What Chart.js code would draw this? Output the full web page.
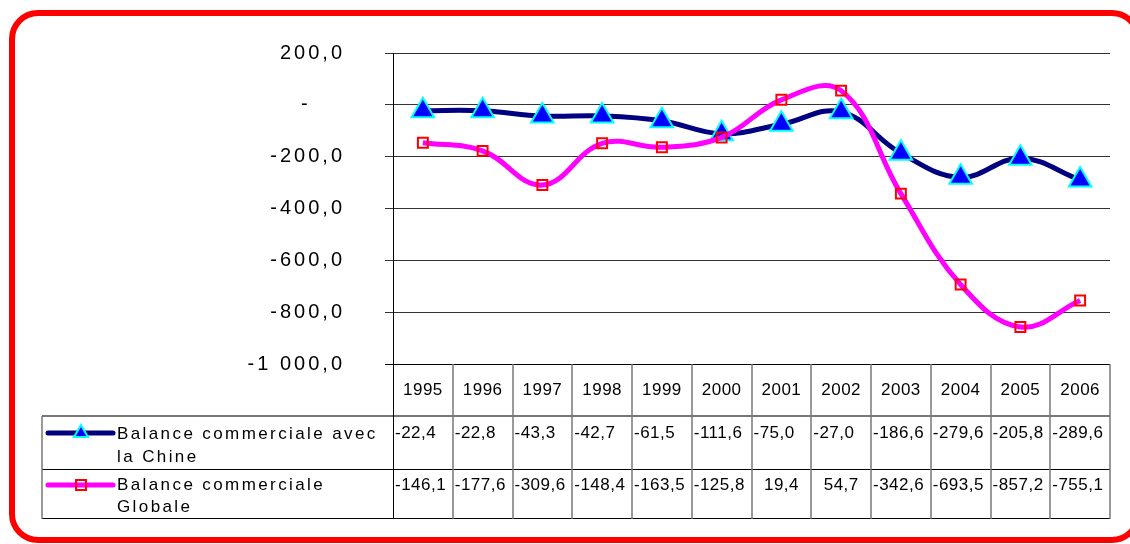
<!DOCTYPE html>
<html><head><meta charset="utf-8">
<script src="https://cdn.jsdelivr.net/npm/chart.js@4.4.0/dist/chart.umd.min.js"></script>
<style>html,body{margin:0;padding:0;background:#fff;}canvas{display:block;}</style>
</head><body>
<canvas id="c" width="1130" height="544"></canvas>
<script>
const years = ['1995','1996','1997','1998','1999','2000','2001','2002','2003','2004','2005','2006'];
const chinaLabel = ['Balance commerciale avec', 'la Chine'];
const globalLabel = ['Balance commerciale', 'Globale'];
const chinaValues = [-22.4, -22.8, -43.3, -42.7, -61.5, -111.6, -75.0, -27.0, -186.6, -279.6, -205.8, -289.6];
const globalValues = [-146.1, -177.6, -309.6, -148.4, -163.5, -125.8, 19.4, 54.7, -342.6, -693.5, -857.2, -755.1];
const yMin = -1000, yMax = 200, yStep = 200;

const FONT = '"Liberation Sans", Arial, sans-serif';

function fmtNum(v) {
  const s = v.toFixed(1).replace('.', ',');
  return v >= 0 ? '  ' + s : s;
}
function fmtTick(v) {
  if (v === 0) return '-    ';
  let s = Math.abs(v).toFixed(1).replace('.', ',');
  s = s.replace(/^(\d)(\d{3})/, '$1 $2');
  return (v < 0 ? '-' : '') + s;
}

const spacingPlugin = {
  id: 'spacing',
  beforeDraw(chart) { chart.ctx.letterSpacing = '3px'; },
  beforeDatasetsDraw(chart) { chart.ctx.letterSpacing = '0px'; }
};

const tablePlugin = {
  id: 'table',
  afterDraw(chart) {
    const ctx = chart.ctx;
    const ca = chart.chartArea;
    const n = years.length;
    const colW = (ca.right - ca.left) / n;
    const top = ca.bottom;          // 364
    const r1 = top + 52;            // 416
    const r2 = r1 + 53;             // 469
    const bot = r2 + 49;            // 518
    const legL = 42;
    ctx.save();
    ctx.letterSpacing = '0px';
    // horizontal lines
    ctx.strokeStyle = '#000'; ctx.lineWidth = 1;
    ctx.beginPath(); ctx.moveTo(ca.left - 8, top + 0.5); ctx.lineTo(ca.right, top + 0.5); ctx.stroke();
    ctx.strokeStyle = '#777'; ctx.lineWidth = 2;
    ctx.beginPath(); ctx.moveTo(legL, r1); ctx.lineTo(ca.right, r1); ctx.stroke();
    ctx.strokeStyle = '#000'; ctx.lineWidth = 1;
    ctx.beginPath(); ctx.moveTo(legL, r2 + 0.5); ctx.lineTo(ca.right, r2 + 0.5); ctx.stroke();
    ctx.beginPath(); ctx.moveTo(legL, bot + 0.5); ctx.lineTo(ca.right, bot + 0.5); ctx.stroke();
    // vertical lines
    ctx.strokeStyle = '#777'; ctx.lineWidth = 1.5;
    ctx.beginPath(); ctx.moveTo(legL, r1); ctx.lineTo(legL, bot + 1); ctx.stroke();
    for (let i = 1; i <= n; i++) {
      const x = Math.round(ca.left + i * colW);
      ctx.beginPath(); ctx.moveTo(x, top); ctx.lineTo(x, bot + 1); ctx.stroke();
    }
    ctx.strokeStyle = '#000'; ctx.lineWidth = 1;
    ctx.beginPath(); ctx.moveTo(ca.left + 0.5, top); ctx.lineTo(ca.left + 0.5, bot + 1); ctx.stroke();

    // years
    ctx.fillStyle = '#000';
    ctx.font = '17px ' + FONT;
    ctx.textBaseline = 'middle';
    ctx.textAlign = 'center';
    ctx.letterSpacing = '0.5px';
    for (let i = 0; i < n; i++) {
      ctx.fillText(years[i], ca.left + (i + 0.5) * colW, top + 26);
    }
    // values
    ctx.textAlign = 'left';
    for (let i = 0; i < n; i++) {
      const xl = ca.left + i * colW + 2;
      ctx.fillText(fmtNum(chinaValues[i]), xl, r1 + 17);
      ctx.fillText(fmtNum(globalValues[i]), xl, r2 + 16);
    }
    // legend keys
    ctx.letterSpacing = '0px';
    const drawKey = (y, color, style, radius, fill, border) => {
      ctx.strokeStyle = color; ctx.lineWidth = 5; ctx.lineCap = 'round';
      ctx.beginPath(); ctx.moveTo(48, y); ctx.lineTo(113, y); ctx.stroke();
      ctx.lineCap = 'butt';
      ctx.fillStyle = fill; ctx.strokeStyle = border; ctx.lineWidth = 2;
      Chart.helpers.drawPoint(ctx, {pointStyle: style, radius: radius, borderWidth: 2, rotation: 0}, 81, y);
    };
    drawKey(r1 + 17, '#000080', 'triangle', 8, '#0000ff', '#00ffff');
    drawKey(r2 + 16, '#ff00ff', 'rect', 7, 'rgba(0,0,0,0)', '#ff0000');
    ctx.fillStyle = '#000';
    ctx.font = '17px ' + FONT;
    ctx.letterSpacing = '2.4px';
    ctx.textAlign = 'left';
    ctx.fillText(chinaLabel[0], 117, r1 + 18);
    ctx.fillText(chinaLabel[1], 117, r1 + 41);
    ctx.fillText(globalLabel[0], 117, r2 + 16);
    ctx.fillText(globalLabel[1], 117, r2 + 38);
    ctx.restore();

    // red frame
    ctx.save();
    ctx.strokeStyle = '#ff0000'; ctx.lineWidth = 6;
    ctx.beginPath(); ctx.roundRect(12, 13, 1126, 527, 26); ctx.stroke();
    ctx.restore();
  }
};

new Chart(document.getElementById('c'), {
  type: 'line',
  data: {
    labels: years,
    datasets: [
      {
        label: globalLabel.join(' '),
        data: globalValues,
        borderColor: '#ff00ff',
        borderWidth: 5,
        tension: 0.4,
        pointStyle: 'rect',
        pointRadius: 7,
        pointBackgroundColor: 'rgba(0,0,0,0)',
        pointBorderColor: '#ff0000',
        pointBorderWidth: 2
      },
      {
        label: chinaLabel.join(' '),
        data: chinaValues,
        borderColor: '#000080',
        borderWidth: 5,
        tension: 0.4,
        pointStyle: 'triangle',
        pointRadius: 13,
        pointBackgroundColor: '#0000ff',
        pointBorderColor: '#00ffff',
        pointBorderWidth: 2
      }
    ]
  },
  options: {
    responsive: false,
    animation: false,
    events: [],
    layout: { padding: { top: 53, bottom: 180, right: 20, left: 0 } },
    plugins: { legend: { display: false }, tooltip: { enabled: false } },
    scales: {
      x: { type: 'category', offset: true, display: false },
      y: {
        min: yMin, max: yMax,
        afterFit(s) { s.width = 393; s.paddingTop = 0; s.paddingBottom = 0; },
        ticks: {
          stepSize: yStep,
          color: '#000',
          padding: 40,
          font: { family: FONT, size: 20 },
          callback: (v) => fmtTick(v)
        },
        grid: { color: '#333', lineWidth: 1, tickLength: 8, drawTicks: true },
        border: { display: true, color: '#000', width: 1 }
      }
    }
  },
  plugins: [spacingPlugin, tablePlugin]
});
</script>
</body></html>
